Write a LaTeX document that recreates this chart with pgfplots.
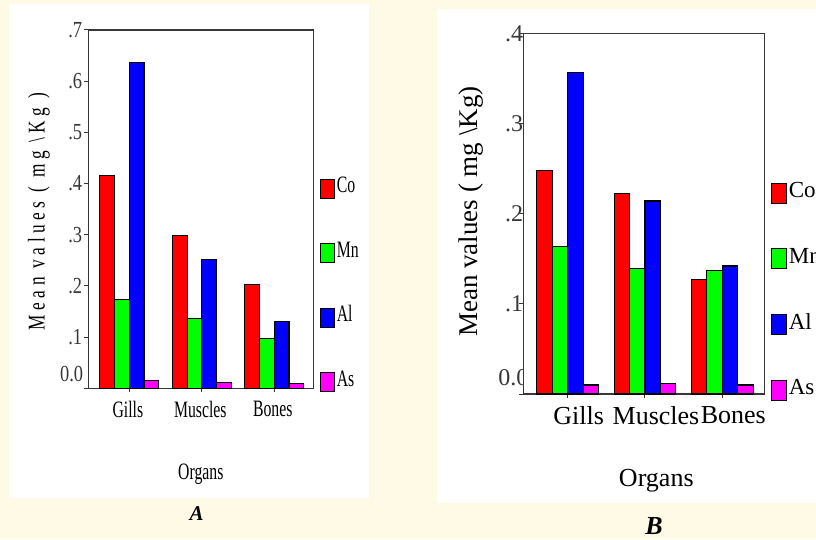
\documentclass[border=0pt]{standalone}
\usepackage{fontspec}
\setmainfont{Liberation Serif}
\newfontfamily\condA{Liberation Serif}[FakeStretch=0.67]
\newfontfamily\condAy{Liberation Serif}[FakeStretch=0.72,LetterSpace=19]
\newfontfamily\condAt{Liberation Serif}[FakeStretch=0.8]
\usepackage{pgfplots}
\usepackage{pgfplotstable}
\pgfplotsset{compat=1.18}
\definecolor{cream}{RGB}{255,250,230}
\definecolor{axcol}{RGB}{55,55,55}
\definecolor{cCo}{RGB}{255,0,0}
\definecolor{cMn}{RGB}{0,255,0}
\definecolor{cAl}{RGB}{0,0,255}
\definecolor{cAs}{RGB}{255,0,255}

\pgfplotstableread{
x Co Mn Al As
0 0.416 0.174 0.636 0.015
1 0.299 0.137 0.251 0.012
2 0.202 0.098 0.131 0.009
}\dataA
\pgfplotstableread{
x Co Mn Al As
0 0.248 0.164 0.357 0.010
1 0.222 0.139 0.214 0.012
2 0.127 0.137 0.142 0.010
}\dataB

\pgfplotsset{
  mybars/.style={
    scale only axis, anchor=south west,
    ymin=0, xtick={0,1,2}, xtick pos=bottom, ytick pos=left,
    tick align=outside, major tick length=4pt,
    tick style={axcol, line width=1pt},
    axis line style={axcol, line width=1.3pt},
    ybar=0pt,
    every axis plot/.append style={draw=black, line width=1.1pt},
    legend style={draw=none, fill=none, inner sep=0pt, anchor=north west,
      column sep=1.5pt, nodes={inner sep=0pt, anchor=base west, text height=16pt, text depth=5.5pt}},
  },
}

\begin{document}
\begin{tikzpicture}
\fill[cream] (0pt,0pt) rectangle (816pt,539pt);
\fill[white] (9.3pt,41pt) rectangle (369pt,535pt);
\fill[white] (437.3pt,36.4pt) rectangle (816pt,530.4pt);

% ---------------- Panel A ----------------
\begin{axis}[mybars, name=A,
  at={(88.3pt,150.7pt)}, width=225pt, height=358.3pt,
  xmin=-0.566, xmax=2.538, ymax=0.7, bar width=0.203,
  ytick={0,0.1,0.2,0.3,0.4,0.5,0.6,0.7},
  yticklabels={,.1,.2,.3,.4,.5,.6,.7},
  yticklabel style={font=\condAt\fontsize{23}{23}\selectfont, inner sep=0pt, text=axcol, xshift=-2pt},
  xticklabels={Gills,Muscles,Bones},
  xticklabel style={font=\condA\fontsize{23.5}{23.5}\selectfont, inner sep=0pt, yshift=-9pt, xshift=-1.5pt},
  xlabel={Organs},
  xlabel style={at={(axis description cs:0.5,0)}, anchor=base, yshift=-91.2pt, inner sep=0pt,
    font=\condA\fontsize{23.5}{23.5}\selectfont},
  ylabel={Mean values ( mg \textbackslash Kg )},
  ylabel style={at={(axis description cs:-0.22,0.4934)}, anchor=center, inner sep=0pt,
    font=\condAy\fontsize{24}{24}\selectfont},
  legend style={at={(axis description cs:1.0267,0.591)}, row sep=42.5pt,
    font=\condA\fontsize{23.5}{23.5}\selectfont},
  every axis plot post/.append style={legend image code/.code={
    \draw[##1, line width=1.1pt, draw=black] (0pt,-5.5pt) rectangle (14.7pt,13.5pt);}},
]
\addplot[fill=cCo] table[x=x,y=Co]{\dataA};
\addplot[fill=cMn] table[x=x,y=Mn]{\dataA};
\addplot[fill=cAl] table[x=x,y=Al]{\dataA};
\addplot[fill=cAs] table[x=x,y=As]{\dataA};
\legend{Co,Mn,Al,As}
\end{axis}
\node[anchor=east, inner sep=0pt, text=axcol, font=\condAt\fontsize{23}{23}\selectfont]
  at ([xshift=-5pt,yshift=14.3pt]A.south west) {0.0};

% ---------------- Panel B ----------------
\begin{axis}[mybars, name=B,
  at={(523.3pt,145pt)}, width=241.2pt, height=360.7pt,
  xmin=-0.574, xmax=2.546, ymax=0.4, bar width=0.199,
  ytick={0,0.1,0.2,0.3,0.4},
  yticklabels={,.1,.2,.3,.4},
  yticklabel style={font=\fontsize{24}{24}\selectfont, inner sep=0pt, text=axcol, xshift=4pt},
  xticklabels={Gills,Muscles,Bones},
  xticklabel style={font=\fontsize{26}{26}\selectfont, inner sep=0pt, yshift=-8pt, xshift=11pt},
  xlabel={Organs},
  xlabel style={at={(axis description cs:0.5,0)}, anchor=base, yshift=-92pt, xshift=12.4pt, inner sep=0pt,
    font=\fontsize{26}{26}\selectfont},
  ylabel={Mean values ( mg \textbackslash Kg)},
  ylabel style={at={(axis description cs:-0.2177,0.5057)}, anchor=center, inner sep=0pt,
    font=\fontsize{27}{27}\selectfont},
  legend style={at={(axis description cs:1.027,0.5886)}, row sep=43.8pt, overlay,
    font=\fontsize{23}{23}\selectfont},
  every axis plot post/.append style={legend image code/.code={
    \draw[##1, line width=1.1pt, draw=black] (0pt,-5.3pt) rectangle (15pt,14.7pt);}},
]
\addplot[fill=cCo] table[x=x,y=Co]{\dataB};
\addplot[fill=cMn] table[x=x,y=Mn]{\dataB};
\addplot[fill=cAl] table[x=x,y=Al]{\dataB};
\addplot[fill=cAs] table[x=x,y=As]{\dataB};
\legend{Co,Mn,Al,As}
\end{axis}
\node[anchor=east, inner sep=0pt, text=axcol, font=\fontsize{24}{24}\selectfont]
  at ([xshift=5.2pt,yshift=16pt]B.south west) {0.0};
\fill[white] ([xshift=1pt,yshift=4pt]B.south west) rectangle ([xshift=12.4pt,yshift=28pt]B.south west);

% panel letters
\node[font=\bfseries\itshape\fontsize{21}{21}\selectfont, inner sep=0pt] at (196.7pt,25pt) {A};
\node[font=\bfseries\itshape\fontsize{26}{26}\selectfont, inner sep=0pt] at (654pt,13pt) {B};
\end{tikzpicture}
\end{document}
